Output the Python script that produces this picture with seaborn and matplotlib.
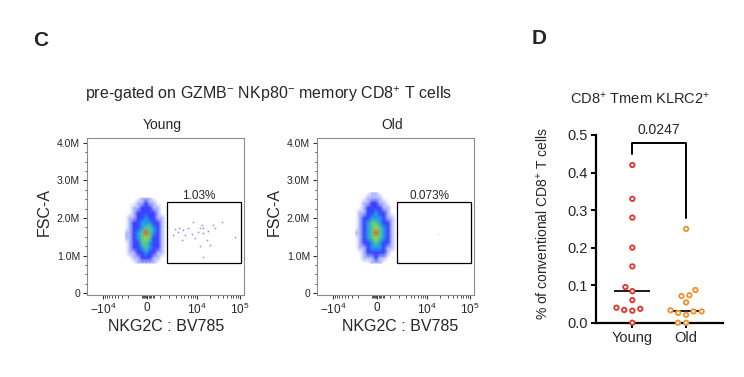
import numpy as np
import pandas as pd
import matplotlib
matplotlib.use('Agg')
import matplotlib.pyplot as plt
import matplotlib.transforms as mtransforms
import seaborn as sns
from matplotlib.colors import LinearSegmentedColormap
from matplotlib.patches import Rectangle

sns.set_style('white')
plt.rcParams['font.family'] = ['Liberation Sans', 'DejaVu Sans']
plt.rcParams['mathtext.fontset'] = 'custom'
plt.rcParams['mathtext.rm'] = 'Liberation Sans'
plt.rcParams['mathtext.it'] = 'Liberation Sans:italic'
plt.rcParams['mathtext.bf'] = 'Liberation Sans:bold'

## Panel D: % of conventional CD8+ T cells that are KLRC2+ Tmem
groups = ['Young', 'Old']
young_vals = [0.42, 0.33, 0.28, 0.20, 0.15, 0.095, 0.084, 0.06, 0.04, 0.034, 0.037, 0.032, 0.0]
old_vals = [0.25, 0.087, 0.071, 0.073, 0.054, 0.030, 0.021, 0.033, 0.026, 0.030, 0.0, 0.0]
group_colors = {'Young': '#e8332b', 'Old': '#f0902f'}
p_value = '0.0247'

## Panel C: pseudocolor density (levels 0-6).
nkg2c_bins = [-2400, -1800, -1250, -830, -450, -110, 200, 500, 850, 1200, 1650]
young_fsc_bins = [2.53, 2.40, 2.27, 2.13, 2.00, 1.87, 1.73, 1.60, 1.47, 1.33, 1.20, 1.07, 0.93, 0.80]
young_density = [
    [0, 0, 0, 0, 1, 1, 1, 0, 0, 0, 0],
    [0, 0, 0, 1, 1, 2, 1, 1, 0, 0, 0],
    [0, 0, 1, 1, 2, 2, 2, 1, 1, 0, 0],
    [0, 0, 1, 2, 2, 2, 2, 2, 1, 0, 0],
    [0, 1, 1, 2, 2, 3, 2, 2, 1, 1, 0],
    [0, 1, 2, 2, 3, 3, 3, 2, 2, 1, 0],
    [0, 1, 2, 2, 3, 4, 4, 3, 2, 1, 0],
    [1, 1, 2, 3, 4, 6, 4, 3, 2, 1, 0],
    [1, 1, 2, 3, 4, 5, 4, 2, 2, 1, 0],
    [0, 1, 2, 2, 4, 4, 3, 2, 2, 1, 0],
    [0, 1, 2, 2, 3, 4, 3, 2, 2, 1, 0],
    [0, 1, 1, 2, 2, 3, 2, 2, 1, 1, 0],
    [0, 0, 1, 1, 2, 2, 2, 1, 1, 0, 0],
    [0, 0, 0, 1, 1, 1, 1, 1, 0, 0, 0],
]
old_fsc_bins = [2.67, 2.53, 2.40, 2.27, 2.13, 2.00, 1.87, 1.73, 1.60, 1.47, 1.33, 1.20, 1.07, 0.93, 0.80]
old_density = [
    [0, 0, 0, 0, 1, 1, 0, 0, 0, 0, 0],
    [0, 0, 0, 1, 1, 1, 1, 0, 0, 0, 0],
    [0, 0, 1, 1, 2, 2, 1, 1, 0, 0, 0],
    [0, 0, 1, 2, 2, 2, 2, 1, 1, 0, 0],
    [0, 1, 1, 2, 2, 3, 2, 2, 1, 0, 0],
    [0, 1, 2, 2, 3, 3, 3, 2, 1, 1, 0],
    [0, 1, 2, 3, 4, 4, 3, 2, 2, 1, 0],
    [0, 1, 2, 3, 4, 5, 4, 3, 2, 1, 0],
    [1, 1, 2, 3, 4, 6, 4, 3, 2, 1, 0],
    [0, 1, 2, 3, 4, 5, 4, 3, 2, 1, 0],
    [0, 1, 2, 2, 3, 4, 3, 2, 2, 1, 0],
    [0, 1, 1, 2, 3, 3, 3, 2, 1, 1, 0],
    [0, 0, 1, 2, 2, 2, 2, 2, 1, 0, 0],
    [0, 0, 1, 1, 1, 2, 1, 1, 0, 0, 0],
    [0, 0, 0, 0, 1, 1, 1, 0, 0, 0, 0],
]

# events inside the NKG2C+ gate (NKG2C, FSC-A in M)
young_gate_x = [2900, 3700, 3500, 4700, 5100, 6200, 7400, 8100, 8900, 10600, 11700, 12800, 13500,
                13900, 16700, 18200, 20000, 23800, 26100, 11700, 13900, 37400, 76200, 2600, 4300]
young_gate_y = [1.72, 1.74, 1.64, 1.68, 1.55, 1.73, 1.57, 1.90, 1.46, 1.64, 1.73, 1.81, 1.74,
                1.59, 1.41, 1.65, 1.28, 1.81, 1.73, 1.25, 0.97, 1.90, 1.50, 1.55, 1.41]
old_gate_x = [18300, 1900]
old_gate_y = [1.57, 1.61]

gate_x = [1700, 103000]
gate_y = [0.79, 2.42]
gate_pct = ['1.03%', '0.073%']

# biexponential-like axis (arcsinh, negative side compressed)
C, K = 1390.0, 0.88
def fwd(x):
    u = np.arcsinh(np.asarray(x, float) / C)
    return np.where(u < 0, u * K, u)
def inv(u):
    u = np.asarray(u, float)
    return np.where(u < 0, C * np.sinh(u / K), C * np.sinh(u))

flow_cmap = LinearSegmentedColormap.from_list(
    'flowjo', ['#ffffff', '#b4baff', '#3a44ff', '#2298f0', '#56cc8a', '#a6d84a', '#ec5a26'])

W, H = 744, 377
fig = plt.figure(figsize=(W / 100, H / 100), dpi=100)

def box(x0, y0, x1, y1):
    return [x0 / W, 1 - y1 / H, (x1 - x0) / W, (y1 - y0) / H]

def flow_panel(rect, fsc_bins, density, ex, ey, ecolor, pct, title, xoff):
    ax = fig.add_axes(rect)
    ax.set_xscale('function', functions=(fwd, inv))
    X, Y = np.meshgrid(nkg2c_bins, fsc_bins)
    ax.pcolormesh(X, Y, np.array(density, float), shading='gouraud', cmap=flow_cmap,
                  vmin=0, vmax=6, zorder=1, rasterized=True)
    ax.scatter(ex, ey, s=1.6, color=ecolor, alpha=0.6, lw=0, zorder=2)
    ax.add_patch(Rectangle((gate_x[0], gate_y[0]), gate_x[1] - gate_x[0], gate_y[1] - gate_y[0],
                           fill=False, ec='black', lw=0.9, zorder=3))
    ax.text(0.7126, 2.50, pct,
            transform=mtransforms.blended_transform_factory(ax.transAxes, ax.transData),
            ha='center', va='baseline', fontsize=8.5)
    ax.set_xlim(-27800, 125500)
    ax.set_ylim(-0.053, 4.125)
    ax.set_xticks([-1e4, 0, 1e4, 1e5])
    ax.set_xticklabels([r'$-10^4$', '0', r'$10^4$', r'$10^5$'], fontsize=8.5)
    minors = [-m * 1000 for m in range(2, 10)] + [s * m * 100 for s in (-1, 1) for m in range(1, 6)] \
        + [m * 1000 for m in range(1, 10)] + [m * 10000 for m in range(2, 10)]
    ax.set_xticks(minors, minor=True)
    ax.set_yticks([0, 1, 2, 3, 4])
    ax.set_yticklabels(['0', '1.0M', '2.0M', '3.0M', '4.0M'], fontsize=7.5)
    ax.set_yticks(np.arange(0, 4.01, 0.25), minor=True)
    ax.tick_params(which='both', bottom=True, left=True, direction='out', color='#333333')
    ax.tick_params(which='major', length=3.2, width=0.8, pad=1.5)
    ax.tick_params(which='minor', length=1.8, width=0.6)
    for s in ax.spines.values():
        s.set_visible(True)
        s.set_color('#8c8c8c')
        s.set_linewidth(0.8)
    fig.text((rect[0] * W + rect[2] * W / 2 - 3) / W, 1 - 125 / H, title, ha='center', va='center', fontsize=10)
    fig.text((rect[0] * W - 42.5) / W, 1 - 211.5 / H, 'FSC-A', rotation=90, ha='center', va='center', fontsize=11.5)
    fig.text((166 + xoff) / W, 1 - 326.5 / H, 'NKG2C : BV785', ha='center', va='center', fontsize=11.5)
    return ax

flow_panel(box(86.7, 138.3, 244.3, 295), young_fsc_bins, young_density,
           young_gate_x, young_gate_y, '#4a4aff', gate_pct[0], 'Young', 0)
flow_panel(box(316.7, 138.3, 474.3, 295), old_fsc_bins, old_density,
           old_gate_x, old_gate_y, '#d8d49a', gate_pct[1], 'Old', 234)

fig.text(41 / W, 1 - 41 / H, 'C', fontsize=15, fontweight='bold', ha='center', va='center')
fig.text(539 / W, 1 - 38 / H, 'D', fontsize=15, fontweight='bold', ha='center', va='center')
fig.text(268.5 / W, 1 - 94 / H, r'pre-gated on GZMB$^{-}$ NKp80$^{-}$ memory CD8$^{+}$ T cells',
         ha='center', va='center', fontsize=11.5)

## Panel D dot plot
df = pd.DataFrame({'group': ['Young'] * len(young_vals) + ['Old'] * len(old_vals),
                   'value': young_vals + old_vals})
ax3 = fig.add_axes(box(596, 135, 722.7, 322.7))
sns.swarmplot(data=df, x='group', y='value', hue='group', order=groups, palette=group_colors,
              size=5.6, linewidth=0, legend=False, ax=ax3, zorder=3)
ax3.set_xlim(-0.676, 1.68)
ax3.set_ylim(0, 0.5)
fig.canvas.draw()
for coll in ax3.collections:
    fc = coll.get_facecolors()
    if 'draw' in coll.__dict__:
        del coll.draw
    coll.set_facecolors('white')
    coll.set_edgecolors(fc)
    coll.set_linewidths(1.3)
    coll.set_sizes([3.2 ** 2])
    coll.set_clip_on(False)
sns.boxplot(data=df, x='group', y='value', order=groups, width=0.67, showbox=False, showcaps=False,
            showfliers=False, whiskerprops={'visible': False},
            medianprops={'color': '#1a1a1a', 'lw': 1.4}, ax=ax3)
ax3.set_xlim(-0.676, 1.68)
ax3.set_ylim(0, 0.5)
ax3.plot([0, 0, 1, 1], [0.45, 0.478, 0.478, 0.28], color='black', lw=1.4, clip_on=False)
ax3.text(0.5, 0.5146, p_value, ha='center', va='center', fontsize=10)
ax3.set_yticks(np.arange(0, 0.51, 0.1))
ax3.set_yticklabels(['0.0', '0.1', '0.2', '0.3', '0.4', '0.5'], fontsize=10.5)
ax3.set_xticks([0, 1])
ax3.set_xticklabels(groups, fontsize=10.5)
ax3.set_xlabel('')
ax3.set_ylabel('')
sns.despine(ax=ax3)
for s in ('left', 'bottom'):
    ax3.spines[s].set_linewidth(1.6)
    ax3.spines[s].set_color('black')
ax3.tick_params(direction='out', length=3.8, width=1.4, color='black', pad=2, left=True, bottom=True)
fig.text(543 / W, 1 - 224 / H, r'% of conventional CD8$^{+}$ T cells', rotation=90,
         ha='center', va='center', fontsize=10)
fig.text(640 / W, 1 - 99 / H, r'CD8$^{+}$ Tmem KLRC2$^{+}$', ha='center', va='center', fontsize=10.5)

fig.savefig('out.png', dpi=100, facecolor='white')
